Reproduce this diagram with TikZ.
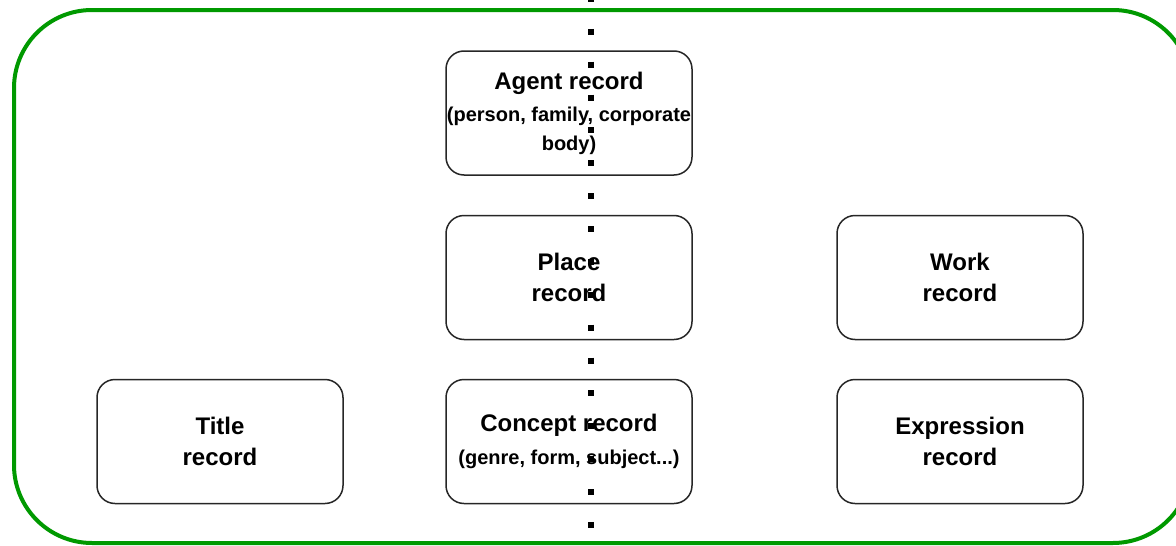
\documentclass[tikz,border=0pt]{standalone}
\usepackage{fontspec}
\setmainfont{Liberation Sans}
\usetikzlibrary{positioning}
\definecolor{groupgreen}{RGB}{0,153,0}
\newcommand{\subtxt}{\fontsize{20}{24}\selectfont}

\begin{document}
\begin{tikzpicture}[x=1pt,y=-1pt,
    record/.style={draw=black!85,line width=1.5pt,rounded corners=18pt,
      minimum width=246pt,minimum height=124pt,inner sep=0pt,align=center,
      font=\bfseries\fontsize{24}{31}\selectfont},
    dots/.style={line width=6pt,dash pattern=on 6pt off 26.87pt}]
      \useasboundingbox (0,0) rectangle (1176,546);
      \draw[groupgreen,line width=4pt,rounded corners=78pt] (14,10) rectangle (1191,543);
      \node[record] (agent) at (569,113) {Agent record\\[1pt]\subtxt (person, family, corporate\\[-2pt]\subtxt body)};
      \node[record] (place) at (569,277.5) {Place\\record};
      \node[record] (work) at (960,277.5) {Work\\record};
      \node[record] (title) at (220,441.5) {Title\\record};
      \node[record] (concept) at (569,441.5) {Concept record\\[2pt]\subtxt (genre, form, subject...)};
      \node[record] (expression) at (960,441.5) {Expression\\record};
      \coordinate (linetop) at (591,-4);
      \coordinate (linebot) at (591,552);
      \draw[dots] (linetop) -- (linebot);
    \end{tikzpicture}
\end{document}
